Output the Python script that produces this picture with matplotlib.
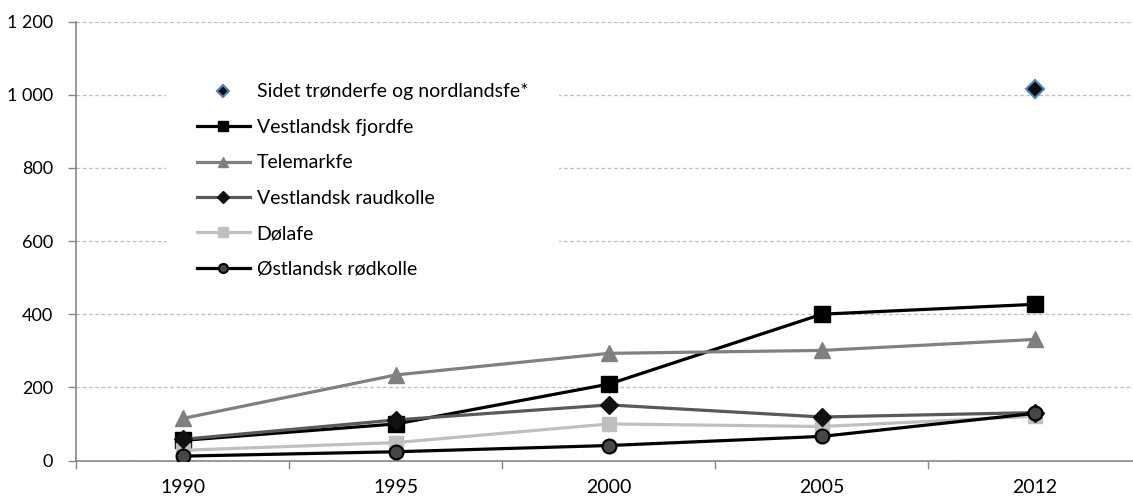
import matplotlib
matplotlib.use("Agg")
import matplotlib.pyplot as plt
from matplotlib.ticker import FuncFormatter, FixedLocator

plt.rcParams['font.family'] = ['Lato', 'DejaVu Sans']

# Data
years = ["1990", "1995", "2000", "2005", "2012"]
sidet = [None, None, None, None, 1015]
vestlandsk_fjordfe = [55, 100, 209, 400, 427]
telemarkfe = [115, 234, 293, 301, 331]
vestlandsk_raudkolle = [58, 111, 152, 119, 131]
dolafe = [28, 49, 100, 93, 121]
ostlandsk_rodkolle = [12, 24, 41, 66, 129]

x = list(range(len(years)))

fig = plt.figure(figsize=(11.33, 4.97), dpi=100)
ax = fig.add_axes([0.0675, 0.0734, 0.94, 0.8833])

lw = 2.3
ax.plot(x, vestlandsk_fjordfe, color="black", lw=lw, marker="s", ms=11,
        mfc="black", mec="black", label="Vestlandsk fjordfe", zorder=3)
ax.plot(x, telemarkfe, color="#808080", lw=lw, marker="^", ms=11.5,
        mfc="#808080", mec="#808080", label="Telemarkfe", zorder=4)
ax.plot(x, vestlandsk_raudkolle, color="#595959", lw=lw, marker="D", ms=9.5,
        mfc="#111111", mec="#111111", label="Vestlandsk raudkolle", zorder=5)
ax.plot(x, dolafe, color="#BFBFBF", lw=lw, marker="s", ms=10.5,
        mfc="#BFBFBF", mec="#BFBFBF", label="Dølafe", zorder=4.5)
ax.plot(x, ostlandsk_rodkolle, color="black", lw=lw, marker="o", ms=10,
        mfc="#474747", mec="black", mew=1.5, label="Østlandsk rødkolle", zorder=6)

sx = [i for i, v in zip(x, sidet) if v is not None]
sy = [v for v in sidet if v is not None]
ax.plot(sx, sy, linestyle="none", marker="D", ms=9.5, mfc="#0d0d0d",
        mec="#4F81BD", mew=1.5, label="Sidet trønderfe og nordlandsfe*", zorder=7)

ax.set_xlim(-0.5, len(years) - 0.5)
ax.set_ylim(0, 1200)

# y axis
ax.set_yticks(range(0, 1201, 200))
ax.yaxis.set_major_formatter(FuncFormatter(lambda v, p: f"{int(v):,}".replace(",", " ")))
ax.tick_params(axis="y", direction="out", length=6, width=1, color="#868686",
               labelsize=13, pad=11, labelcolor="black")
ax.grid(axis="y", color="#BDBDBD", linestyle=(0, (3, 2)), linewidth=0.9, zorder=0)
ax.set_axisbelow(True)

# x axis: labels at category centres, tick marks between categories
ax.set_xticks(x)
ax.set_xticklabels(years)
ax.tick_params(axis="x", which="major", length=0, labelsize=14, pad=13, labelcolor="black")
ax.xaxis.set_minor_locator(FixedLocator([i + 0.5 for i in x[:-1]] + [-0.5]))
ax.tick_params(axis="x", which="minor", direction="out", length=6, width=1, color="#868686")

for side in ["top", "right"]:
    ax.spines[side].set_visible(False)
for side in ["left", "bottom"]:
    ax.spines[side].set_color("#868686")
    ax.spines[side].set_linewidth(1.2)

handles, labels = ax.get_legend_handles_labels()
order = [5, 0, 1, 2, 3, 4]
leg = ax.legend([handles[i] for i in order], [labels[i] for i in order],
                loc="upper left", bbox_to_anchor=(0.084, 0.93), borderaxespad=0,
                fontsize=14, numpoints=1, markerscale=0.65, handlelength=2.7,
                handletextpad=0.36, labelspacing=0.95, borderpad=1.6,
                frameon=True, fancybox=False, framealpha=1)
leg.get_frame().set_facecolor("white")
leg.get_frame().set_edgecolor("none")
leg.set_zorder(10)

fig.savefig("out.png", dpi=100)
